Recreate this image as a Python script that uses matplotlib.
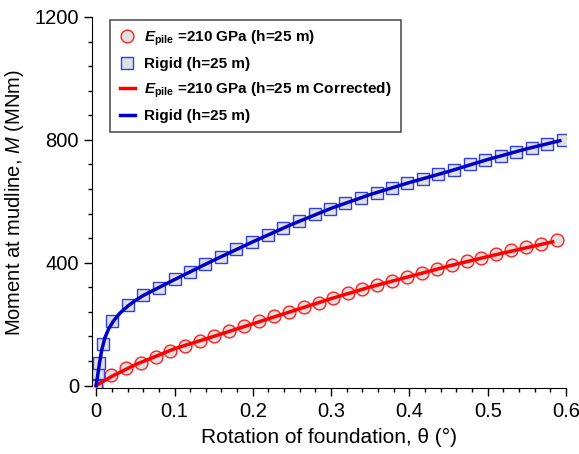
import numpy as np
import matplotlib.pyplot as plt

# ---- data ----
# rigid pile, measured points
rigid_theta = [0.0, 0.002, 0.004, 0.009, 0.020, 0.040, 0.060, 0.080, 0.100, 0.120,
               0.139, 0.159, 0.179, 0.199, 0.219, 0.239, 0.259, 0.279, 0.298, 0.318,
               0.338, 0.358, 0.378, 0.397, 0.417, 0.437, 0.457, 0.477, 0.497, 0.517,
               0.536, 0.556, 0.576, 0.596]
rigid_M = [0, 40, 75, 135, 210, 263, 294, 319, 346, 371,
           396, 420, 444, 468, 491, 514, 535, 557, 575, 593,
           612, 628, 643, 658, 674, 688, 703, 720, 734, 748,
           761, 775, 788, 801]

# E_pile = 210 GPa, measured points
epile_theta = [0.0, 0.019, 0.038, 0.057, 0.076, 0.094, 0.113, 0.132, 0.151, 0.170,
               0.189, 0.208, 0.227, 0.246, 0.265, 0.284, 0.302, 0.321, 0.340, 0.359,
               0.378, 0.397, 0.416, 0.435, 0.454, 0.473, 0.492, 0.511, 0.530, 0.549,
               0.568, 0.589]
epile_M = [0, 33, 56, 74, 94, 113, 128, 144, 160, 176,
           193, 209, 225, 240, 255, 270, 285, 300, 314, 328,
           341, 354, 367, 380, 393, 405, 416, 428, 440, 451,
           462, 473]

# fitted curves
rigid_line_theta = [0.0, 0.001, 0.002, 0.004, 0.007, 0.011, 0.016, 0.022, 0.030, 0.040,
                    0.050, 0.060, 0.080, 0.100, 0.150, 0.200, 0.250, 0.300, 0.350, 0.400,
                    0.450, 0.500, 0.550, 0.592]
rigid_line_M = [0, 18, 35, 70, 115, 155, 185, 210, 235, 258,
                277, 293, 319, 345, 408, 468, 525, 577, 622, 661,
                697, 736, 771, 797]

epile_line_theta = [0.0, 0.02, 0.05, 0.10, 0.15, 0.20, 0.25, 0.30, 0.35, 0.40,
                    0.45, 0.50, 0.55, 0.583]
epile_line_M = [0, 30, 68, 120, 160, 201, 242, 283, 321, 355,
                389, 420, 449, 468]

# ---- style ----
plt.rcParams['font.family'] = 'Liberation Sans'
plt.rcParams['mathtext.fontset'] = 'custom'
plt.rcParams['mathtext.rm'] = 'Liberation Sans'
plt.rcParams['mathtext.it'] = 'Liberation Sans:italic'
plt.rcParams['mathtext.bf'] = 'Liberation Sans:bold'
plt.rcParams['mathtext.bfit'] = 'Liberation Sans:bold:italic'

fig = plt.figure(figsize=(5.79, 4.54), dpi=100)
ax = fig.add_axes([0.1594, 0.1447, 0.8182, 0.8179])

ax.plot(epile_theta, epile_M, 'o', ms=9.2, mfc='#e0e0e0', mec='#ff2020', mew=1.0,
        label=r'$\mathbfit{E}_{\mathbf{pile}}$ =210 GPa (h=25 m)', zorder=2)
ax.plot(rigid_theta, rigid_M, 's', ms=8.6, mfc='#e0e0e0', mec='#3040e0', mew=1.0,
        label='Rigid (h=25 m)', zorder=2)
ax.plot(epile_line_theta, epile_line_M, '-', color='#ff0000', lw=2.5,
        label=r'$\mathbfit{E}_{\mathbf{pile}}$ =210 GPa (h=25 m Corrected)', zorder=3)
ax.plot(rigid_line_theta, rigid_line_M, '-', color='#0000c8', lw=2.5,
        label='Rigid (h=25 m)', zorder=3)

ax.set_xlim(-0.005, 0.6)
ax.set_ylim(-9, 1200)
ax.set_xticks([0, 0.1, 0.2, 0.3, 0.4, 0.5, 0.6])
ax.set_xticklabels(['0', '0.1', '0.2', '0.3', '0.4', '0.5', '0.6'])
ax.set_xticks(np.arange(0, 0.601, 0.02), minor=True)
ax.set_yticks([0, 400, 800, 1200])
ax.set_yticks(np.arange(0, 1201, 80), minor=True)

for s in ['top', 'right']:
    ax.spines[s].set_visible(False)
ax.spines['left'].set_bounds(0, 1200)
ax.spines['bottom'].set_bounds(0, 0.6)
ax.tick_params(which='major', direction='out', length=6, width=1, labelsize=14.5)
ax.tick_params(which='minor', direction='out', length=3, width=1)

ax.set_xlabel('Rotation of foundation, θ (°)', fontsize=15, labelpad=5)
ax.set_ylabel(r'Moment at mudline, $\mathit{M}$ (MNm)', fontsize=14.5, labelpad=6)

leg = ax.legend(loc='upper left', bbox_to_anchor=(0.022, 1.0135), fancybox=False,
                framealpha=1, edgecolor='#555555', handlelength=1.0,
                handletextpad=0.6, borderpad=0.6, labelspacing=0.6,
                prop={'weight': 'bold', 'size': 11})
leg.get_frame().set_linewidth(1.2)

fig.savefig('out.png', dpi=100)
